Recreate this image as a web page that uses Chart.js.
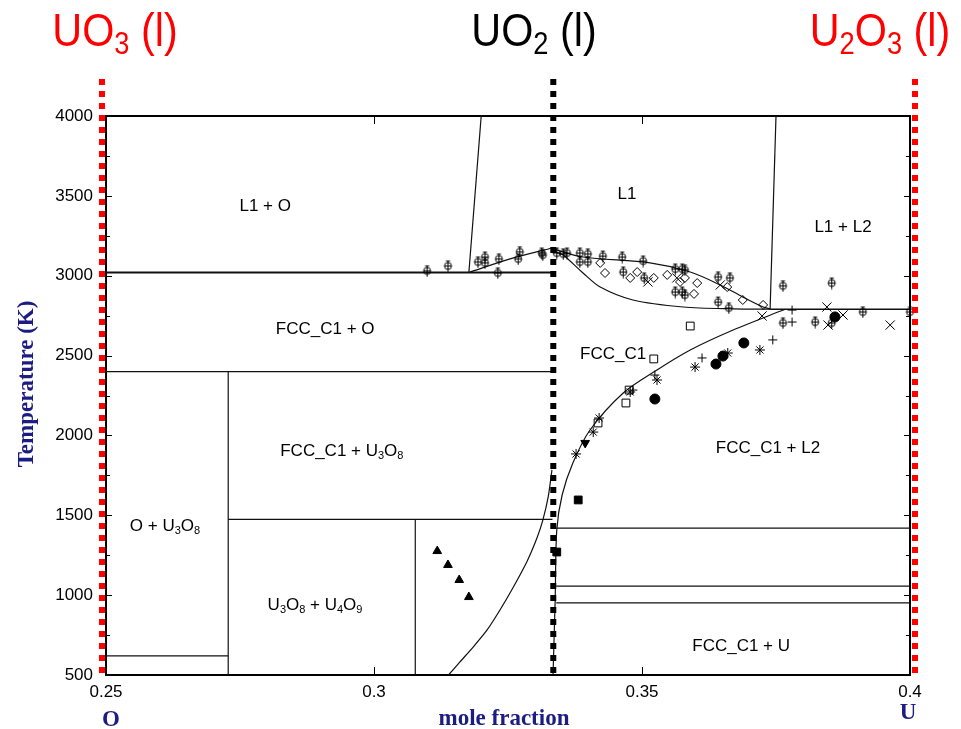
<!DOCTYPE html>
<html>
<head>
<meta charset="utf-8">
<script src="https://cdn.jsdelivr.net/npm/chart.js@4.4.1/dist/chart.umd.min.js"></script>
<style>
  body { margin: 0; background: #fff; }
  #wrap { width: 961px; height: 729px; }
</style>
</head>
<body>
<div id="wrap"><canvas id="c" width="961" height="729"></canvas></div>
<script>
// ticks
var xTicks = [0.25, 0.3, 0.35, 0.4];
var yTicks = [500, 1000, 1500, 2000, 2500, 3000, 3500, 4000];

// phase boundaries, [mole fraction U, T (K)]
var eutecticO  = [[0.25, 3020], [0.3333, 3020]];
var line2400   = [[0.25, 2400], [0.3333, 2400]];
var line1475   = [[0.2728, 1475], [0.3333, 1475]];
var line620    = [[0.25, 620], [0.2728, 620]];
var u3o8Edge   = [[0.2728, 500], [0.2728, 2400]];
var u4o9Edge   = [[0.3077, 500], [0.3077, 1475]];
var liqLeft    = [[0.3177, 3020], [0.3254, 3105], [0.3334, 3175]];
var gasLeft    = [[0.3177, 3020], [0.32, 4000]];
var liqRight   = [[0.3334, 3175], [0.3341, 3161], [0.3390, 3117], [0.3515, 3080], [0.3590, 3023],
                  [0.3646, 2942], [0.3688, 2867], [0.3726, 2804], [0.3739, 2792]];
var solRight   = [[0.3334, 3175], [0.3340, 3148], [0.3353, 3130], [0.3390, 3017], [0.3422, 2929],
                  [0.3483, 2848], [0.3577, 2804], [0.3670, 2792], [0.3739, 2790]];
var monotectic = [[0.3739, 2790], [0.4, 2790]];
var l2Edge     = [[0.3739, 2790], [0.375, 4000]];
var hypoEdge   = [[0.3767, 2790], [0.367, 2660], [0.359, 2535], [0.3528, 2410], [0.3465, 2266],
                  [0.3403, 2034], [0.3371, 1827], [0.3351, 1627], [0.3341, 1408], [0.3338, 970], [0.3334, 500]];
var hyperEdge  = [[0.3139, 500], [0.3160, 581], [0.3185, 675], [0.3211, 782], [0.3235, 907],
                  [0.3259, 1045], [0.3285, 1208], [0.3304, 1358], [0.3315, 1470], [0.3325, 1615], [0.3332, 1784]];
var line1420   = [[0.3340, 1420], [0.4, 1420]];
var line1057   = [[0.3340, 1057], [0.4, 1057]];
var line951    = [[0.3340, 951], [0.4, 951]];

// composition markers (reach above the frame)
var uo3Line  = [[0.24925, 4232], [0.24925, 500]];
var uo2Line  = [[0.33345, 4232], [0.33345, 500]];
var u2o3Line = [[0.40093, 4232], [0.40093, 500]];

// experimental points
var phiPts = [[0.3099, 3030], [0.3138, 3061], [0.3194, 3086], [0.3207, 3117], [0.3207, 3080], [0.3233, 3105],
  [0.3231, 3017], [0.3272, 3149], [0.3269, 3105], [0.3313, 3142], [0.3315, 3130], [0.3341, 3142],
  [0.3353, 3136], [0.3360, 3142], [0.3384, 3142], [0.3399, 3136], [0.3384, 3086], [0.3399, 3086],
  [0.3427, 3123], [0.3463, 3117], [0.3502, 3092], [0.3465, 3023], [0.3504, 2986], [0.3562, 3042],
  [0.3575, 3042], [0.3580, 3036], [0.3562, 2898], [0.3575, 2898], [0.3580, 2879], [0.3642, 2992],
  [0.3664, 2986], [0.3642, 2835], [0.3662, 2798], [0.3763, 2936], [0.3763, 2704], [0.3823, 2710],
  [0.3854, 2954], [0.3854, 2704], [0.3912, 2773], [0.4, 2773]];
var diamondPts = [[0.3422, 3080], [0.3431, 3017], [0.3478, 2986], [0.3491, 3023], [0.3522, 2986],
  [0.3547, 3005], [0.3571, 2961], [0.3580, 2986], [0.3603, 2954], [0.3597, 2886], [0.3659, 2929],
  [0.3688, 2848], [0.3726, 2817]];
var xPts = [[0.3511, 2961], [0.3565, 2986], [0.3646, 2942], [0.3724, 2748], [0.3845, 2804],
  [0.3847, 2691], [0.3875, 2754], [0.3963, 2691]];
var plusPts = [[0.3780, 2785], [0.3780, 2710], [0.3744, 2598], [0.3612, 2485], [0.3524, 2378], [0.3483, 2284]];
var starPts = [[0.3599, 2428], [0.3660, 2516], [0.3720, 2535], [0.3528, 2347], [0.3478, 2272],
  [0.3420, 2109], [0.3409, 2021], [0.3377, 1884]];
var squarePts = [[0.3590, 2685], [0.3522, 2479], [0.3476, 2284], [0.3470, 2203], [0.3418, 2078]];
var dotPts = [[0.3524, 2228], [0.3638, 2447], [0.3651, 2497], [0.3690, 2579], [0.3860, 2742]];
var downPts = [[0.3394, 1953]];
var blockPts = [[0.3381, 1596], [0.3341, 1270]];
var upPts = [[0.3118, 1276], [0.3138, 1189], [0.3159, 1095], [0.3177, 988]];

// region names
var regionNames = ['L1 + O', 'L1', 'L1 + L2', 'FCC_C1 + O', 'FCC_C1', 'FCC_C1 + U_3O_8',
  'FCC_C1 + L2', 'O + U_3O_8', 'U_3O_8 + U_4O_9', 'FCC_C1 + U'];
var regionX = [0.2797, 0.3472, 0.3875, 0.2909, 0.3446, 0.2940, 0.3735, 0.2610, 0.2890, 0.3685];
var regionT = [3443, 3518, 3311, 2673, 2516, 1909, 1928, 1439, 945, 688];

var FONT = '"Liberation Sans", Arial, sans-serif';
var SERIF = '"Liberation Serif", "Times New Roman", serif';
var NAVY = '#1c1c82';
var RED = '#ff0000';

function phiSymbol() {
  var c = document.createElement('canvas');
  c.width = 11; c.height = 13;
  var g = c.getContext('2d');
  g.strokeStyle = '#000'; g.lineWidth = 1;
  g.beginPath(); g.arc(5.5, 6.5, 3.5, 0, 2 * Math.PI); g.stroke();
  g.beginPath();
  g.moveTo(5.5, 1.5); g.lineTo(5.5, 12.5);
  g.moveTo(2, 6.5); g.lineTo(9, 6.5);
  g.moveTo(3.5, 1.5); g.lineTo(7.5, 1.5);
  g.stroke();
  return c;
}

function toXY(pts) {
  return pts.map(function (p) { return { x: p[0], y: p[1] }; });
}

function lineSet(pts, width, opts) {
  return Object.assign({
    data: toXY(pts), showLine: true, borderColor: '#111', borderWidth: width,
    pointRadius: 0, fill: false, tension: 0
  }, opts || {});
}

function markSet(pts, style, r, filled, opts) {
  return Object.assign({
    data: toXY(pts), showLine: false, pointStyle: style, pointRadius: r,
    borderColor: '#000', borderWidth: 1, clip: 8,
    backgroundColor: filled ? '#000' : 'rgba(0,0,0,0)'
  }, opts || {});
}

// text with _n subscripts
function drawRich(ctx, text, x, y, o) {
  var runs = [], re = /_(\d)/g, last = 0, m;
  while ((m = re.exec(text))) {
    if (m.index > last) runs.push({ s: text.slice(last, m.index) });
    runs.push({ s: m[1], sub: true });
    last = re.lastIndex;
  }
  if (last < text.length) runs.push({ s: text.slice(last) });
  var w8 = o.weight ? o.weight + ' ' : '';
  var main = w8 + o.size + 'px ' + o.family;
  var small = w8 + Math.round(o.size * o.subScale) + 'px ' + o.family;
  var w = 0;
  runs.forEach(function (r) {
    ctx.font = r.sub ? small : main;
    r.w = ctx.measureText(r.s).width;
    w += r.w;
  });
  ctx.save();
  ctx.translate(x, y);
  if (o.rotate) ctx.rotate(o.rotate);
  ctx.scale(o.sx || 1, 1);
  ctx.fillStyle = o.color;
  ctx.textAlign = 'left';
  ctx.textBaseline = 'alphabetic';
  var cx = -w / 2;
  runs.forEach(function (r) {
    ctx.font = r.sub ? small : main;
    ctx.fillText(r.s, cx, r.sub ? o.size * o.subDrop : 0);
    cx += r.w;
  });
  ctx.restore();
}

var framePlugin = {
  id: 'frame',
  beforeDatasetsDraw: function (chart) {
    var ctx = chart.ctx, ca = chart.chartArea;
    var xs = chart.scales.x, ys = chart.scales.y;
    ctx.save();
    ctx.strokeStyle = '#000';
    ctx.lineWidth = 1;
    ctx.beginPath();
    for (var t = 500; t <= 4000; t += 250) {
      var p = Math.round(ys.getPixelForValue(t)) + 0.5;
      var len = (t % 500 === 0) ? 6 : 4;
      ctx.moveTo(ca.left, p); ctx.lineTo(ca.left + len, p);
      ctx.moveTo(ca.right, p); ctx.lineTo(ca.right - len, p);
    }
    xTicks.forEach(function (v) {
      var p = Math.round(xs.getPixelForValue(v)) + 0.5;
      ctx.moveTo(p, ca.bottom); ctx.lineTo(p, ca.bottom - 8);
      ctx.moveTo(p, ca.top); ctx.lineTo(p, ca.top + 8);
    });
    ctx.stroke();
    ctx.lineWidth = 2;
    ctx.strokeRect(ca.left, ca.top, ca.right - ca.left, ca.bottom - ca.top);
    ctx.restore();
  },
  afterDraw: function (chart) {
    var ctx = chart.ctx, xs = chart.scales.x, ys = chart.scales.y;
    var lab = { size: 17, family: FONT, color: '#000', subScale: 0.62, subDrop: 0.2 };
    regionNames.forEach(function (n, i) {
      drawRich(ctx, n, xs.getPixelForValue(regionX[i]), ys.getPixelForValue(regionT[i]) + 6, lab);
    });
    var ttl = { size: 47, family: FONT, subScale: 0.66, subDrop: 0.18, sx: 0.88 };
    drawRich(ctx, 'UO_3 (l)', 115, 46, Object.assign({ color: RED }, ttl));
    drawRich(ctx, 'UO_2 (l)', 534, 46, Object.assign({ color: '#000' }, ttl));
    drawRich(ctx, 'U_2O_3 (l)', 880, 46, Object.assign({ color: RED }, ttl));
    var ax = { size: 23, family: SERIF, weight: 'bold', color: NAVY, subScale: 1, subDrop: 0 };
    drawRich(ctx, 'Temperature (K)', 33, 384, Object.assign({ rotate: -Math.PI / 2 }, ax));
    drawRich(ctx, 'mole fraction', 504, 725, ax);
    drawRich(ctx, 'O', 111, 726, ax);
    drawRich(ctx, 'U', 908, 719, ax);
  }
};

var datasets = [
  lineSet(uo2Line, 6, { borderColor: '#000', borderDash: [6, 6], clip: false }),
  lineSet(uo3Line, 6, { borderColor: RED, borderDash: [6, 6], clip: false }),
  lineSet(u2o3Line, 6, { borderColor: RED, borderDash: [6, 6], clip: false }),
  markSet(phiPts, phiSymbol(), 5, false),
  markSet(diamondPts, 'rectRot', 4.5, false),
  markSet(xPts, 'crossRot', 6.5, false),
  markSet(plusPts, 'cross', 4.5, false),
  markSet(starPts, 'star', 5, false),
  markSet(squarePts, 'rect', 5.5, false),
  markSet(dotPts, 'circle', 5, true),
  markSet(downPts, 'triangle', 5, true, { rotation: 180 }),
  markSet(blockPts, 'rect', 5.5, true),
  markSet(upPts, 'triangle', 5, true),
  lineSet(eutecticO, 2.2),
  lineSet(line2400, 1.2),
  lineSet(line1475, 1.2),
  lineSet(line620, 1.2),
  lineSet(u3o8Edge, 1.2),
  lineSet(u4o9Edge, 1.2),
  lineSet(liqLeft, 1.2, { tension: 0.3 }),
  lineSet(gasLeft, 1.2),
  lineSet(liqRight, 1.2, { tension: 0.3 }),
  lineSet(solRight, 1.2, { tension: 0.3 }),
  lineSet(monotectic, 1.6),
  lineSet(l2Edge, 1.2),
  lineSet(hypoEdge, 1.2, { tension: 0.3 }),
  lineSet(hyperEdge, 1.2, { tension: 0.25 }),
  lineSet(line1420, 1.2),
  lineSet(line1057, 1.2),
  lineSet(line951, 1.2)
];

new Chart(document.getElementById('c'), {
  type: 'scatter',
  data: { datasets: datasets },
  options: {
    responsive: false,
    animation: false,
    layout: { padding: { left: 0, right: 51, top: 116, bottom: 0 } },
    plugins: { legend: { display: false }, tooltip: { enabled: false } },
    scales: {
      x: {
        type: 'linear', min: 0.25, max: 0.4,
        grid: { display: false, drawTicks: false },
        border: { display: false },
        afterBuildTicks: function (s) { s.ticks = xTicks.map(function (v) { return { value: v }; }); },
        afterFit: function (s) { s.height = 54; },
        ticks: {
          padding: 7, color: '#000', font: { family: FONT, size: 17 },
          maxRotation: 0, autoSkip: false,
          callback: function (v) { return String(Math.round(v * 100) / 100); }
        }
      },
      y: {
        type: 'linear', min: 500, max: 4000,
        grid: { display: false, drawTicks: false },
        border: { display: false },
        afterBuildTicks: function (s) { s.ticks = yTicks.map(function (v) { return { value: v }; }); },
        afterFit: function (s) { s.width = 106; },
        ticks: {
          padding: 13, color: '#000', font: { family: FONT, size: 17 }, autoSkip: false,
          callback: function (v) { return String(v); }
        }
      }
    }
  },
  plugins: [framePlugin]
});
</script>
</body>
</html>
